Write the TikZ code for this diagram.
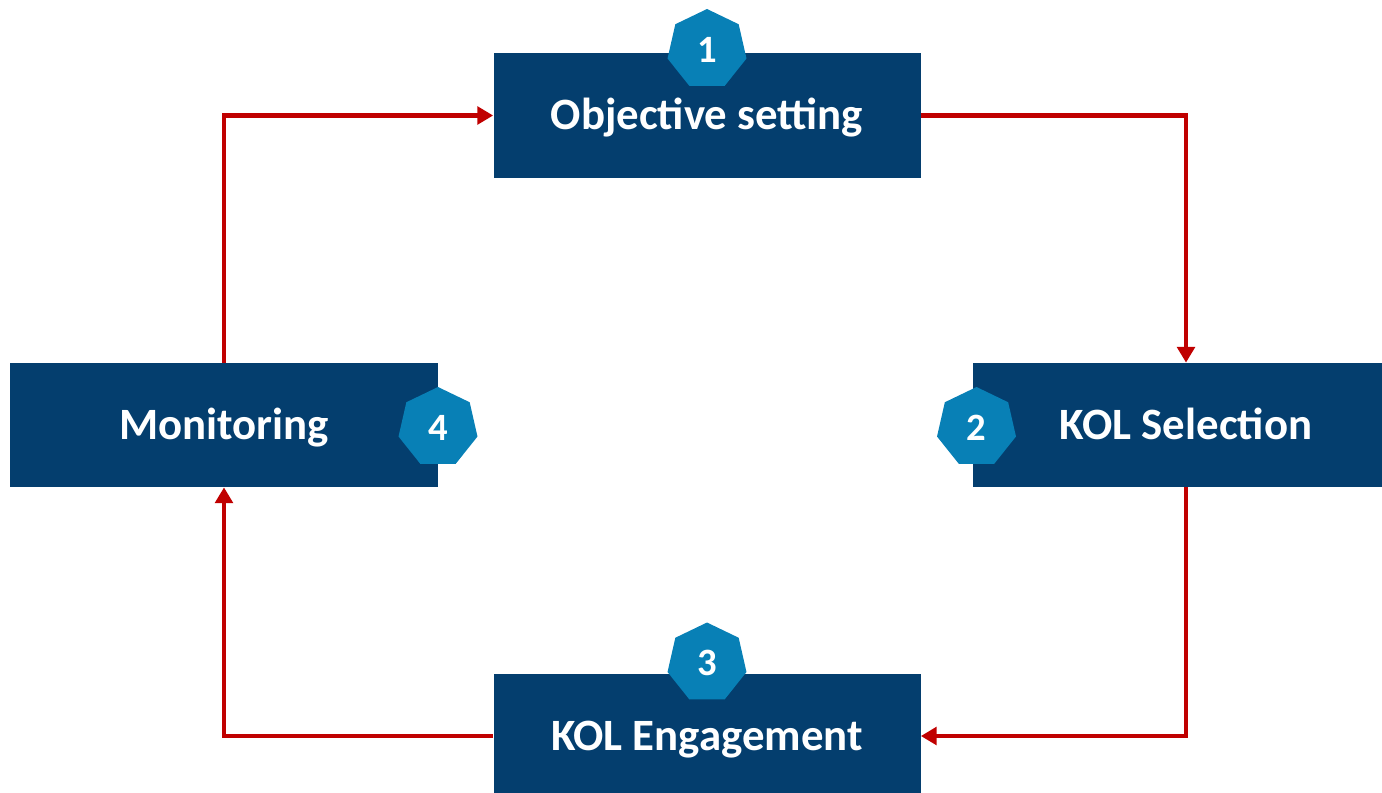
\documentclass[tikz,border=0pt]{standalone}
\usepackage{fontspec}
\setmainfont{Carlito}
\usetikzlibrary{shapes.geometric,arrows.meta}
\definecolor{boxblue}{RGB}{4,62,110}
\definecolor{numblue}{RGB}{8,128,182}
\definecolor{arrowred}{RGB}{192,0,0}
\begin{document}
\begin{tikzpicture}[x=0.2mm, y=-0.2mm,
        stepbox/.style={fill=boxblue, text=white, minimum width=85.4mm, minimum height=24.8mm, inner sep=0pt, text height=19pt, text depth=3pt, font=\bfseries\fontsize{25.5}{30}\selectfont},
        numtag/.style={regular polygon, regular polygon sides=7, fill=numblue, text=white, minimum size=16.2mm, inner sep=0pt, font=\bfseries\fontsize{22}{24}\selectfont},
        flow/.style={draw=arrowred, line width=2.3pt, -{Triangle[length=9pt,width=10pt]}}]
        \useasboundingbox (0,0) rectangle (1382,792);
        \node[stepbox] (obj) at (707,115.5) {Objective setting};
        \node[stepbox] (sel) at (1186,425) {KOL Selection};
        \node[stepbox] (eng) at (707,736) {KOL Engagement};
        \node[stepbox] (mon) at (224,425) {Monitoring};
        \node[numtag] (n1) at (707,49.5) {1};
        \node[numtag] (n2) at (976.5,427.5) {2};
        \node[numtag] (n3) at (707,663) {3};
        \node[numtag] (n4) at (438,427.5) {4};
        \draw[flow] (obj.east) -| (sel.north);
        \draw[flow] (sel.south) |- (eng.east);
        \draw[flow] (eng.west) -| (mon.south);
        \draw[flow] (mon.north) |- (obj.west);
    \end{tikzpicture}
\end{document}
